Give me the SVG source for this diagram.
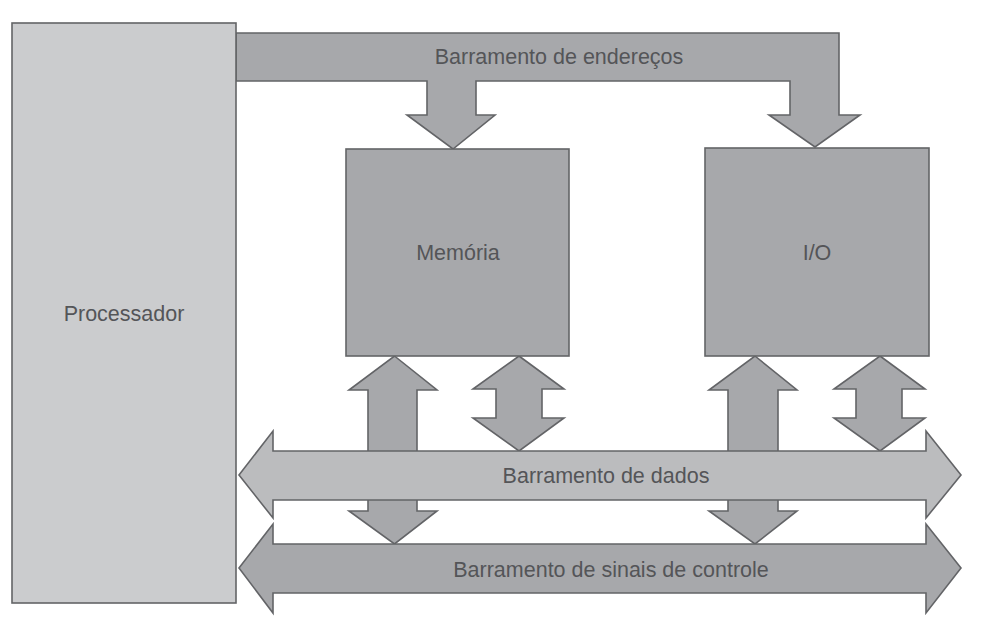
<svg xmlns="http://www.w3.org/2000/svg" width="985" height="621" viewBox="0 0 985 621">
<style>
.s{stroke:#636467;stroke-width:1.6;stroke-linejoin:miter}
.proc{fill:#cbccce}
.dark{fill:#a7a8ab}
.data{fill:#bbbcbe}
text{font-family:"Liberation Sans",Arial,sans-serif;font-size:21.5px;fill:#545558;text-anchor:middle}
</style>
<rect width="985" height="621" fill="#ffffff"/>
<g id="connectors">
<polygon id="bus-enderecos" class="s dark" points="236,33 839,33 839,115 860,115 815,147 769,115 790,115 790,81 476,81 476,115 495,115 453,149 407,115 427,115 427,81 236,81"/>
<polygon id="mem-ctrl" class="s dark" points="394.5,356 437,390 417,390 417,511 437,511 394.5,544 349,511 368,511 368,390 349,390"/>
<polygon id="mem-dados" class="s dark" points="519,356 564,389 542,389 542,418 564,418 519,451 473,418 496,418 496,389 473,389"/>
<polygon id="io-ctrl" class="s dark" points="755,356 797,390 778,390 778,511 797,511 755,544 709,511 728,511 728,390 709,390"/>
<polygon id="io-dados" class="s dark" points="880,356 925,389 902,389 902,418 925,418 880,451 834,418 856,418 856,389 834,389"/>
<polygon id="bus-dados" class="s data" points="239,475 273,431 273,451 926,451 926,431 961,475 926,518 926,500 273,500 273,518"/>
<polygon id="bus-controle" class="s dark" points="239,568 273,524 273,544 926,544 926,524 961,568 926,613 926,593 273,593 273,613"/>
<text x="559" y="64">Barramento de endereços</text>
<text x="606" y="483">Barramento de dados</text>
<text x="611" y="577">Barramento de sinais de controle</text>
</g>
<g id="processador">
<rect class="s proc" x="12" y="23" width="224" height="580"/>
<text x="124" y="321">Processador</text>
</g>
<g id="memoria">
<rect class="s dark" x="346" y="149" width="223" height="207"/>
<text x="458" y="260">Memória</text>
</g>
<g id="io">
<rect class="s dark" x="705" y="148" width="224" height="208"/>
<text x="817" y="260">I/O</text>
</g>
</svg>
